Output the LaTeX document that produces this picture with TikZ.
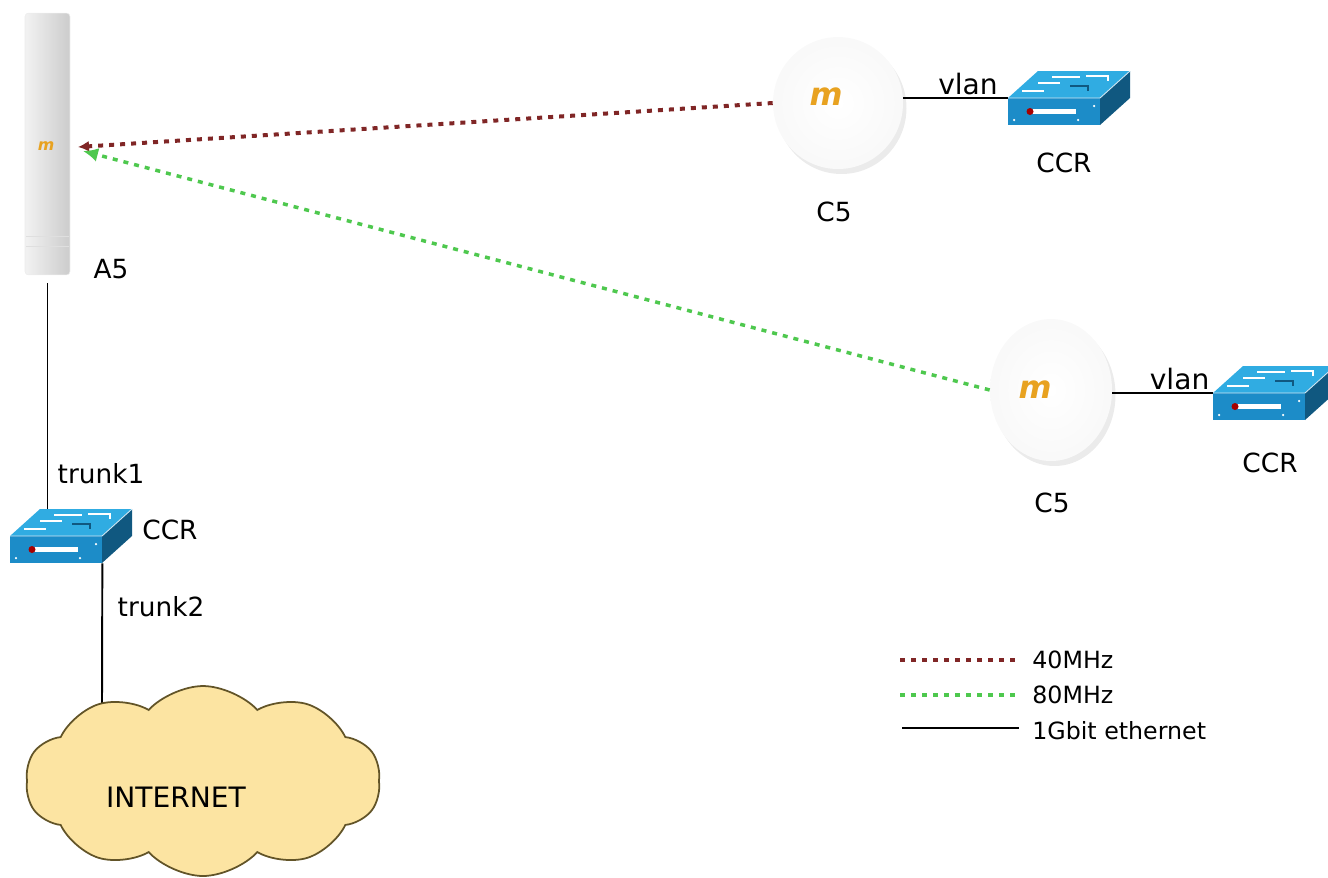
\documentclass[tikz,border=0pt]{standalone}
\usepackage{fontspec}
\setmainfont{DejaVu Sans}
\usetikzlibrary{arrows.meta,shapes.geometric,shapes.symbols,shadows}

\definecolor{rojoenlace}{RGB}{128,38,38}
\definecolor{verdeenlace}{RGB}{78,200,78}
\definecolor{naranjalogo}{RGB}{232,162,32}
\definecolor{azulfrente}{RGB}{28,140,200}
\definecolor{azultapa}{RGB}{48,172,226}
\definecolor{azullado}{RGB}{16,88,128}
\definecolor{amarillonube}{RGB}{252,228,162}
\definecolor{bordenube}{RGB}{98,84,40}

% conmutador CCR: #1 nombre, #2 esquina superior izquierda del frente
\newcommand{\conmutador}[2]{%
  \begin{scope}[shift={#2}]
    \fill[azultapa] (0,0) -- (30,-27) -- (122,-27) -- (92,0) -- cycle;
    \fill[azullado] (92,0) -- (122,-27) -- (122,0) -- (92,27) -- cycle;
    \fill[azulfrente] (0,0) rectangle (92,27);
    \draw[white!80!azulfrente, line width=0.5pt] (0,0) -- (92,0) -- (122,-27);
    % ranura y led del frente
    \fill[white] (24,11) rectangle (68,16);
    \fill[red!65!black] (22,13.5) circle (0.07cm);
    \fill[white] (6,22) circle (0.025cm) (86,8) circle (0.025cm) (70,22) circle (0.025cm);
    % flechas de la tapa
    \draw[white, line width=0.9pt] (14,-7) -- (36,-7) (30,-15) -- (52,-15)
      (44,-21) -- (72,-21) (78,-22) -- (100,-22) -- (100,-17);
    \draw[azullado, line width=0.9pt] (62,-12) -- (80,-12) -- (80,-7);
    \node[inner sep=0, minimum width=1.84cm, minimum height=0.54cm] (#1) at (46,13.5) {};
    \coordinate (#1t) at (30,-27);
  \end{scope}}

\begin{document}
\begin{tikzpicture}[x=0.02cm,y=-0.02cm]
\tikzset{
    etiqueta/.style={text centered, inner sep=0, font=\fontsize{15}{18}\selectfont},
    leyenda/.style={anchor=west, inner sep=0, font=\fontsize{13.5}{16}\selectfont},
    logo/.style={text=naranjalogo, inner sep=0, font=\bfseries\itshape},
    antena/.style={rectangle, rounded corners=2pt, minimum width=0.9cm, minimum height=5.24cm,
        left color=gray!10, middle color=white, right color=gray!40, draw=gray!15, line width=0.3pt},
    disco/.style={ellipse, inner sep=0, inner color=white, outer color=gray!5,
        drop shadow={shadow xshift=0.07cm, shadow yshift=-0.1cm, fill=gray!35, opacity=0.45}},
    nube/.style={cloud, cloud puffs=10, cloud puff arc=95, aspect=2.1, draw=bordenube,
        fill=amarillonube, line width=1pt, minimum width=7.1cm, minimum height=3.8cm, inner sep=0},
    enlace40/.style={draw=rojoenlace, line width=0.08cm, dash pattern=on 0.1cm off 0.12cm},
    enlace80/.style={draw=verdeenlace, line width=0.07cm, dash pattern=on 0.1cm off 0.12cm},
    ether/.style={draw=black, line width=1.1pt}
}
\useasboundingbox (0,0) rectangle (1328,877);

% antena A5
\node[antena] (a5) at (47.5,144) {};
\draw[gray!25] (26,236) -- (69,236) (26,246) -- (69,246);
\node[logo, font=\fontsize{9}{9}\bfseries\itshape] (ma5) at (46,146) {m};
\node[etiqueta] (ta5) at (111,269) {A5};

% clientes C5
\node[disco, minimum width=2.6cm, minimum height=2.64cm] (c5a) at (838,103) {};
\node[logo, font=\fontsize{18}{18}\bfseries\itshape] (mc5a) at (826,97) {m};
\node[etiqueta] (tc5a) at (834,212) {C5};
\node[disco, minimum width=2.44cm, minimum height=2.84cm] (c5b) at (1051,390) {};
\node[logo, font=\fontsize{18}{18}\bfseries\itshape] (mc5b) at (1035,390) {m};
\node[etiqueta] (tc5b) at (1052,503) {C5};

% routers CCR
\conmutador{sw0}{(10,536)}
\conmutador{sw1}{(1008,98)}
\conmutador{sw2}{(1213,393)}
\node[etiqueta] (tsw0) at (170,530) {CCR};
\node[etiqueta] (tsw1) at (1064,163) {CCR};
\node[etiqueta] (tsw2) at (1270,463) {CCR};

% enlaces de radio
\coordinate (rx40) at (78,147);
\coordinate (rx80) at (83,151);
\draw[enlace40, -{Latex[length=0.22cm,width=0.22cm]}] (c5a.west) -- (rx40);
\draw[enlace80, -{Latex[length=0.3cm,width=0.28cm]}] (c5b.west) -- (rx80);

% cableado
\draw[ether] ([yshift=-0.16cm]a5.south) -- (a5.south |- sw0t);
\node[etiqueta] (ttr1) at (101,474) {trunk1};
\coordinate (bajada) at (102,706);
\draw[ether] (sw0.south east) -- (bajada);
\node[etiqueta] (ttr2) at (161,607) {trunk2};
\draw[ether] (c5a.east |- sw1.north west) -- (sw1.north west)
    node[pos=0.62, above, inner sep=1pt, font=\fontsize{16}{18}\selectfont] {vlan};
\draw[ether] (c5b.east |- sw2.north west) -- (sw2.north west)
    node[pos=0.67, above, inner sep=1pt, font=\fontsize{16}{18}\selectfont] {vlan};

% nube
\node[nube] (internet) at (203,781) {};
\node[etiqueta, font=\fontsize{16}{18}\selectfont] (tinternet) at (176,797) {INTERNET};

% leyenda
\node[leyenda] (t40) at (1032,660) {40MHz};
\node[leyenda] (t80) at (1032,695) {80MHz};
\node[leyenda] (tgb) at (1032,731) {1Gbit ethernet};
\draw[enlace40] ([xshift=-2.64cm]t40.west) -- ([xshift=-0.28cm]t40.west);
\draw[enlace80] ([xshift=-2.64cm]t80.west) -- ([xshift=-0.28cm]t80.west);
\draw[ether] ([xshift=-2.6cm,yshift=0.06cm]tgb.west) -- ([xshift=-0.26cm,yshift=0.06cm]tgb.west);
\end{tikzpicture}
\end{document}
